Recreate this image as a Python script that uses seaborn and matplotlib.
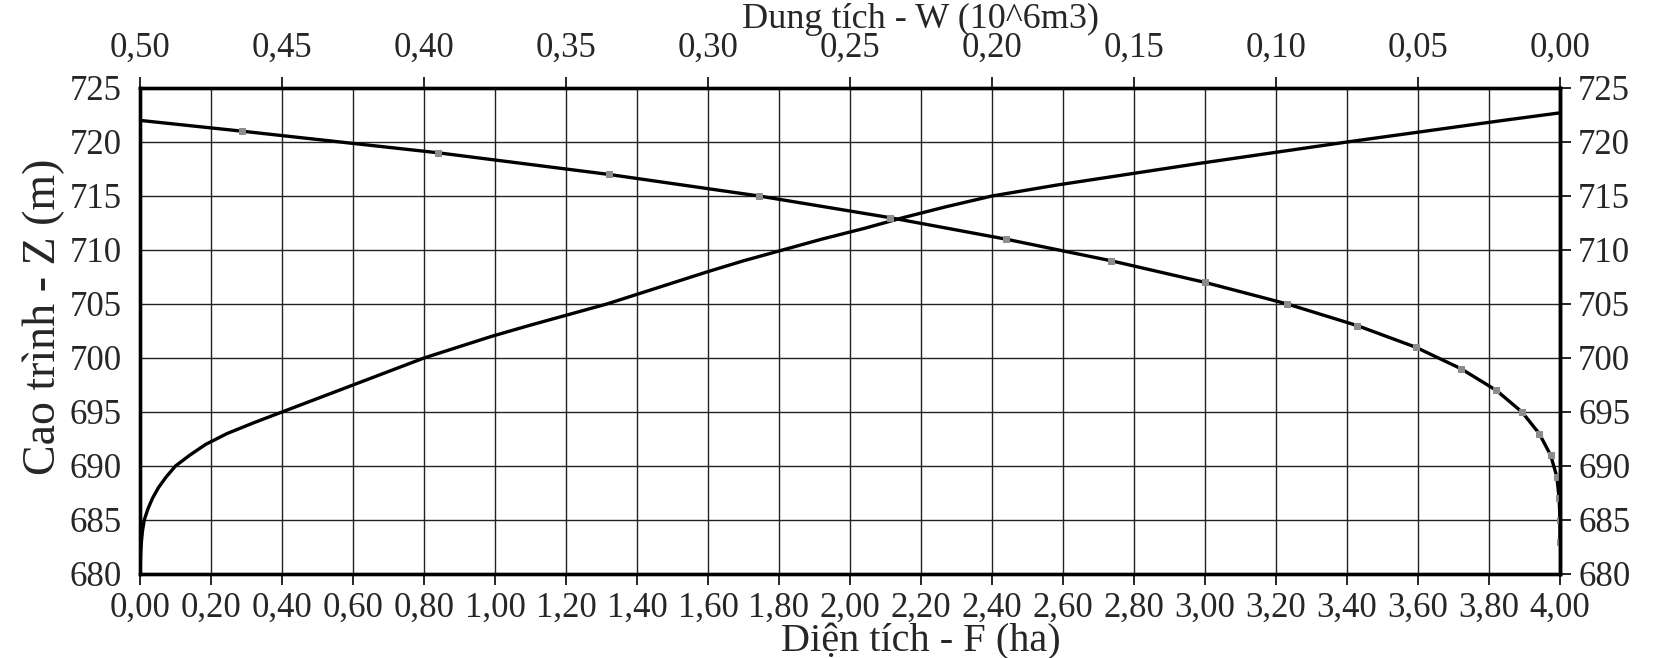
#!/usr/bin/env python3
## dac tinh long ho: dien tich F(Z) va dung tich W(Z)

import matplotlib
matplotlib.use("Agg")
import matplotlib.pyplot as plt
import matplotlib.ticker as mticker
import seaborn as sns

# duong dien tich F (ha) theo cao trinh Z (m)
z_area = [680, 681, 682, 683, 684, 685, 686, 687, 688, 689, 690, 691, 692, 693,
          694, 695, 696, 697, 698, 699, 700, 701, 702, 703, 704, 705, 706, 707,
          708, 709, 710, 711, 712, 713, 714, 715, 716, 717, 718, 719, 720, 721,
          722, 722.7]
f_area = [0.000, 0.001, 0.002, 0.004, 0.007, 0.012, 0.022, 0.035, 0.052, 0.074,
          0.100, 0.140, 0.185, 0.245, 0.320, 0.400, 0.480, 0.560, 0.640, 0.720,
          0.800, 0.895, 0.990, 1.095, 1.205, 1.315, 1.410, 1.505, 1.600, 1.700,
          1.810, 1.920, 2.040, 2.150, 2.270, 2.400, 2.580, 2.780, 2.980, 3.190,
          3.400, 3.620, 3.840, 4.000]

# duong dung tich W (10^6 m3) theo cao trinh Z (m)
z_vol = [683, 685, 687, 689, 691, 693, 695, 697, 699, 701, 703, 705, 707, 709,
         711, 713, 715, 717, 719, 721, 722]
w_vol = [0.0000, 0.0000, 0.0003, 0.0011, 0.0033, 0.0073, 0.0134, 0.0224, 0.0348,
         0.0508, 0.0714, 0.0960, 0.1250, 0.1580, 0.1950, 0.2360, 0.2820, 0.3350,
         0.3950, 0.4640, 0.5000]

f_ticks = [0.0, 0.2, 0.4, 0.6, 0.8, 1.0, 1.2, 1.4, 1.6, 1.8, 2.0, 2.2, 2.4, 2.6,
           2.8, 3.0, 3.2, 3.4, 3.6, 3.8, 4.0]
w_ticks = [0.50, 0.45, 0.40, 0.35, 0.30, 0.25, 0.20, 0.15, 0.10, 0.05, 0.00]
z_ticks = [680, 685, 690, 695, 700, 705, 710, 715, 720, 725]

sns.set_style("white")
plt.rcParams['font.family'] = ['Liberation Serif', 'DejaVu Serif']

W, H = 1653, 658
fig = plt.figure(figsize=(W / 100, H / 100), dpi=100)
left, right, top, bottom = 140, 1560, 88, 574
ax = fig.add_axes([left / W, 1 - bottom / H, (right - left) / W, (bottom - top) / H])

tick_fs = 25
comma = mticker.FuncFormatter(lambda v, p: f"{abs(v):.2f}".replace(".", ","))

# dien tich
sns.lineplot(x=f_area, y=z_area, sort=False, estimator=None, ax=ax,
             color="black", linewidth=2.4)
ax.set_xlim(0, 4)
ax.set_ylim(680, 725)
ax.xaxis.set_major_locator(mticker.FixedLocator(f_ticks))
ax.xaxis.set_major_formatter(comma)
ax.yaxis.set_major_locator(mticker.FixedLocator(z_ticks))
ax.grid(True, color="#222222", linewidth=1.0)
ax.tick_params(direction="out", length=8, width=1.2, color="black",
               labelsize=tick_fs, pad=5)
ax.set_xlabel("Diện tích - F (ha)", fontsize=29, va="center")
ax.xaxis.set_label_coords(0.55, -0.14)
ax.set_ylabel("Cao trình - Z (m)", fontsize=33, va="center")
ax.yaxis.set_label_coords(-0.068, 0.53)

# dung tich, truc tren dao nguoc
ax2 = ax.twiny()
sns.lineplot(x=w_vol, y=z_vol, sort=False, estimator=None, ax=ax2,
             color="black", linewidth=2.4, marker="s", markersize=5,
             markerfacecolor="#8c8c8c", markeredgecolor="#8c8c8c",
             markevery=list(range(len(z_vol) - 1)))
ax2.set_xlim(0.5, 0.0)
ax2.set_ylim(680, 725)
ax2.xaxis.set_major_locator(mticker.FixedLocator(w_ticks))
ax2.xaxis.set_major_formatter(comma)
ax2.tick_params(direction="out", length=8, width=1.2, color="black",
                labelsize=tick_fs, pad=9)
ax2.set_xlabel("Dung tích - W (10^6m3)", fontsize=26, va="center")
ax2.xaxis.set_label_coords(0.55, 1.142)

# truc phai
sec = ax.secondary_yaxis("right")
sec.yaxis.set_major_locator(mticker.FixedLocator(z_ticks))
sec.tick_params(direction="out", length=8, width=1.2, color="black",
                labelsize=tick_fs, pad=5)

for a in (ax, ax2, sec):
    for s in a.spines.values():
        s.set_linewidth(2.4)
        s.set_color("black")

fig.savefig("out.png", dpi=100)
plt.close(fig)
